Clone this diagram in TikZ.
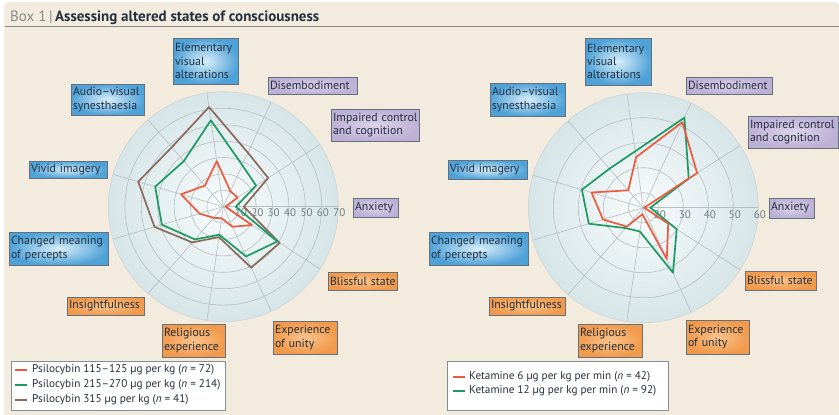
\documentclass[tikz,border=0pt]{standalone}
\usepackage{fontspec}
\setmainfont{PT Sans}
\definecolor{bgpanel}{HTML}{F2EBDE}
\definecolor{discin}{HTML}{F9FCFC}
\definecolor{discout}{HTML}{D6E5E8}
\definecolor{ringc}{HTML}{B4BFC2}
\definecolor{tickc}{HTML}{6F7C82}
\definecolor{redc}{HTML}{EC5A3F}
\definecolor{greenc}{HTML}{1C9A62}
\definecolor{brownc}{HTML}{8A6A5B}
\definecolor{boxb}{HTML}{66707C}
\definecolor{bluein}{HTML}{D9EEF9}
\definecolor{blueout}{HTML}{4FA2D8}
\definecolor{purpin}{HTML}{DCD3EA}
\definecolor{purpout}{HTML}{BDB0D5}
\definecolor{orin}{HTML}{F9C38C}
\definecolor{orout}{HTML}{F29A4C}
\definecolor{txtd}{HTML}{24303F}
\definecolor{hdrgray}{HTML}{8A8A8A}
\tikzset{
  lbl/.style={draw=boxb, line width=0.8pt, inner xsep=2pt, inner ysep=0pt, align=left,
    font=\fontsize{11.8}{13.2}\selectfont, text=txtd,
    execute at begin node={\hyphenpenalty=10000 \exhyphenpenalty=10000 \hbadness=10000 \hfuzz=20pt}},
  bluebox/.style={lbl, inner color=bluein, outer color=blueout},
  purpbox/.style={lbl, inner color=purpin, outer color=purpout},
  orbox/.style={lbl, inner color=orin, outer color=orout},
  ring/.style={draw=ringc, line width=0.6pt},
  tick/.style={font=\fontsize{11}{12}\selectfont, text=tickc, anchor=base, inner sep=0pt},
  series/.style={line width=1.7pt, line join=round},
  legbox/.style={draw=boxb!80, fill=white, line width=0.8pt},
  legtxt/.style={font=\fontsize{11.2}{13}\selectfont, text=txtd, anchor=west, inner sep=0pt},
  legmark/.style={line width=2pt}
}
\begin{document}
\begin{tikzpicture}[x=1pt,y=-1pt]
\useasboundingbox (0,0) rectangle (839,415);
\fill[white] (0,0) rectangle (839,415);
\fill[bgpanel, rounded corners=4pt] (4,2) rectangle (839,417);
% header
\node[anchor=base west, inner sep=0pt, font=\fontsize{15}{17}\selectfont, text=txtd] (title) at (10,21)
  {\textcolor{hdrgray}{Box 1}\,\textcolor{hdrgray}{|}\,\textbf{Assessing altered states of consciousness}};
\coordinate (hl1) at (5,26);
\coordinate (hl2) at (839,26);
\draw[hdrgray, line width=0.8pt] (hl1) -- (hl2);

% ---------------- left chart ----------------
\coordinate (cL) at (223.3,206.7);
\begin{scope}[shift={(cL)}, yscale=-1]
  \shade[inner color=discin, outer color=discout] (0,0) circle[radius=115];
  \draw[draw=ringc!70, line width=0.5pt] (0,0) circle[radius=115];
  \foreach \r in {16.4,32.8,49.2,65.6,82,98.4} \draw[ring] (0,0) circle[radius=\r];
  \foreach \a in {0,32.727,65.455,98.182,130.909,163.636,196.364,229.091,261.818,294.545,327.273}
    \draw[ring] (0,0) -- (\a:115);
  \foreach \v [count=\i] in {10,20,30,40,50,60,70}
    \node[tick] at ({\i*16.4+1.2},-9.6) {\v};
  \draw[series, brownc] (0:20.5) -- (32.727:53.3) -- (65.455:59.3) -- (98.182:100.7) -- (130.909:78.7) -- (163.636:88.7) -- (196.364:71.7) -- (229.091:47.3) -- (261.818:30.7) -- (294.545:67) -- (327.273:67) -- cycle;
  \draw[series, greenc] (0:12.5) -- (32.727:39) -- (65.455:45.7) -- (98.182:87.3) -- (130.909:60.3) -- (163.636:71) -- (196.364:64) -- (229.091:43.3) -- (261.818:28.3) -- (294.545:54.7) -- (327.273:64.3) -- cycle;
  \draw[series, redc] (0:2.5) -- (32.727:17) -- (65.455:17) -- (98.182:46) -- (130.909:28) -- (163.636:44) -- (196.364:24.7) -- (229.091:14.7) -- (261.818:11.7) -- (294.545:22) -- (327.273:34) -- cycle;
\end{scope}

\node[bluebox, text width=61pt, minimum height=46pt] (elemL) at (205.5,61) {Elementary\\visual\\alterations};
\node[purpbox, text width=85pt, minimum height=17pt] (disL) at (312.5,85.5) {Disembodiment};
\node[purpbox, text width=84pt, minimum height=32pt] (impL) at (375,125) {Impaired~control\\and~cognition};
\node[purpbox, text width=41pt, minimum height=19pt] (anxL) at (375.5,207.5) {Anxiety};
\node[bluebox, text width=69pt, minimum height=31pt] (audL) at (107.5,99.5) {Audio–visual\\synesthaesia};
\node[bluebox, text width=74pt, minimum height=17pt] (vivL) at (68,169.5) {Vivid~imagery};
\node[bluebox, text width=95pt, minimum height=33pt] (chgL) at (58.5,248.5) {Changed~meaning\\of~percepts};
\node[orbox, text width=73pt, minimum height=18pt] (insL) at (105.5,306) {Insightfulness};
\node[orbox, text width=59pt, minimum height=33pt] (relL) at (193.5,340.5) {Religious\\experience};
\node[orbox, text width=60pt, minimum height=33pt] (uniL) at (305,337.5) {Experience\\of~unity};
\node[orbox, text width=65pt, minimum height=18pt] (bliL) at (362.5,281) {Blissful~state};

\node[legbox, minimum width=214pt, minimum height=49pt] (legL) at (118,385.5) {};
\node[legtxt] (lt1) at (32,370) {Psilocybin 115–125 µg per kg (\textit{n} = 72)};
\node[legtxt] (lt2) at (32,385) {Psilocybin 215–270 µg per kg (\textit{n} = 214)};
\node[legtxt] (lt3) at (32,400) {Psilocybin 315 µg per kg (\textit{n} = 41)};
\coordinate (m1a) at (15,370); \coordinate (m1b) at (27,370);
\coordinate (m2a) at (15,385); \coordinate (m2b) at (27,385);
\coordinate (m3a) at (15,400); \coordinate (m3b) at (27,400);
\draw[legmark, redc] (m1a) -- (m1b);
\draw[legmark, greenc] (m2a) -- (m2b);
\draw[legmark, brownc] (m3a) -- (m3b);

% ---------------- right chart ----------------
\coordinate (cR) at (643.3,207.7);
\begin{scope}[shift={(cR)}, yscale=-1]
  \shade[inner color=discin, outer color=discout] (0,0) circle[radius=115];
  \draw[draw=ringc!70, line width=0.5pt] (0,0) circle[radius=115];
  \foreach \r in {15,40,65,90} \draw[ring] (0,0) circle[radius=\r];
  \foreach \a in {0,32.727,65.455,98.182,130.909,163.636,196.364,229.091,261.818,294.545,327.273}
    \draw[ring] (0,0) -- (\a:115);
  \foreach \v [count=\i from 0] in {20,30,40,50,60}
    \node[tick] at ({\i*25+15+1.5},-10.3) {\v};
  \draw[series, greenc] (0:7) -- (32.727:54) -- (65.455:99) -- (98.182:57) -- (130.909:51.6) -- (163.636:64) -- (196.364:56.8) -- (229.091:27) -- (261.818:24) -- (294.545:71.5) -- (327.273:39.7) -- cycle;
  \draw[series, redc] (0:1) -- (32.727:64) -- (65.455:94) -- (98.182:51) -- (130.909:23) -- (163.636:54) -- (196.364:42) -- (229.091:25) -- (261.818:6.5) -- (294.545:56.5) -- (327.273:29.6) -- cycle;
\end{scope}

\node[bluebox, text width=62pt, minimum height=47pt] (elemR) at (618,61.5) {Elementary\\visual\\alterations};
\node[purpbox, text width=82pt, minimum height=17pt] (disR) at (729,85.5) {Disembodiment};
\node[purpbox, text width=86pt, minimum height=32pt] (impR) at (793,132) {Impaired~control\\and~cognition};
\node[purpbox, text width=41pt, minimum height=20pt] (anxR) at (791.5,208) {Anxiety};
\node[bluebox, text width=71pt, minimum height=33pt] (audR) at (527.5,99.5) {Audio–visual\\synesthaesia};
\node[bluebox, text width=75pt, minimum height=19pt] (vivR) at (487.5,169.5) {Vivid~imagery};
\node[bluebox, text width=95pt, minimum height=33pt] (chgR) at (478.5,248.5) {Changed~meaning\\of~percepts};
\node[orbox, text width=72pt, minimum height=18pt] (insR) at (527,306) {Insightfulness};
\node[orbox, text width=60pt, minimum height=33pt] (relR) at (610,340.5) {Religious\\experience};
\node[orbox, text width=59pt, minimum height=34pt] (uniR) at (717.5,337) {Experience\\of~unity};
\node[orbox, text width=67pt, minimum height=19pt] (bliR) at (780.5,280.5) {Blissful~state};

\node[legbox, minimum width=221pt, minimum height=49pt] (legR) at (557.5,385.5) {};
\node[legtxt] (rt1) at (469,376.5) {Ketamine 6 µg per kg per min (\textit{n} = 42)};
\node[legtxt] (rt2) at (469,391) {Ketamine 12 µg per kg per min (\textit{n} = 92)};
\coordinate (r1a) at (453,376.5); \coordinate (r1b) at (465,376.5);
\coordinate (r2a) at (453,391); \coordinate (r2b) at (465,391);
\draw[legmark, redc] (r1a) -- (r1b);
\draw[legmark, greenc] (r2a) -- (r2b);
\end{tikzpicture}
\end{document}
